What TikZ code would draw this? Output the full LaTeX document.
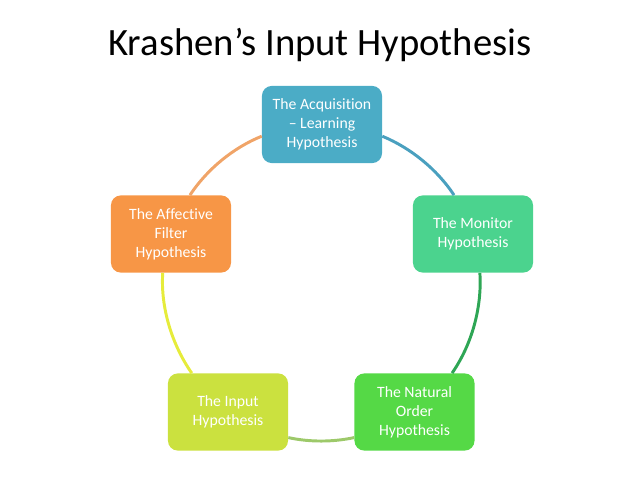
\documentclass[tikz,border=0pt]{standalone}
\usepackage{fontspec}
\setmainfont{Carlito}[Ligatures=NoCommon]
\usepackage{tikz}
\usetikzlibrary{positioning}

\definecolor{acqblue}{HTML}{4BACC6}
\definecolor{monteal}{HTML}{4BD38E}
\definecolor{natgreen}{HTML}{55D946}
\definecolor{inplime}{HTML}{CBE13F}
\definecolor{affor}{HTML}{F79646}
\definecolor{ringblue}{HTML}{4AA0BF}
\definecolor{ringgreen}{HTML}{2EA655}
\definecolor{ringolive}{HTML}{9DC96A}
\definecolor{ringyellow}{HTML}{E6EC3B}
\definecolor{ringorange}{HTML}{F0A468}

\begin{document}
\begin{tikzpicture}[x=0.025cm, y=-0.025cm,
  hyp/.style={rectangle, rounded corners=7pt, minimum width=3cm, minimum height=1.93cm,
              inner sep=2pt, align=center, text=white,
              font=\fontsize{11.2}{13.4}\selectfont},
  ring/.style={line width=2.1pt, looseness=0.85}
]
  \useasboundingbox (0,0) rectangle (638,479);

  % Title
  \node[font=\fontsize{27.5}{32}\selectfont] (title) at (320,45) {Krashen’s Input Hypothesis};

  % Hypothesis boxes
  \node[hyp, fill=acqblue] (acq) at (322,124.5) {The Acquisition\\– Learning\\Hypothesis};
  \node[hyp, fill=monteal] (mon) at (473,234) {The Monitor\\Hypothesis};
  \node[hyp, fill=natgreen] (nat) at (414.5,412) {The Natural\\Order\\Hypothesis};
  \node[hyp, fill=inplime] (inp) at (228,412) {The Input\\Hypothesis};
  \node[hyp, fill=affor] (aff) at (171,234) {The Affective\\Filter\\Hypothesis};

  % Ring
  \draw[ring, color=ringblue] (acq.-11.2) to[out=-22.4, in=123.5] (mon.116.5);
  \draw[ring, color=ringgreen] (mon.-80) to[out=-86.2, in=55.2] (nat.46);
  \draw[ring, color=ringolive] (nat.203.5) to[out=192, in=-12.2] (inp.-23.4);
  \draw[ring, color=ringyellow] (inp.133.6) to[out=124.8, in=266.2] (aff.258.5);
  \draw[ring, color=ringorange] (aff.64.7) to[out=56.5, in=202] (acq.191);
\end{tikzpicture}
\end{document}
